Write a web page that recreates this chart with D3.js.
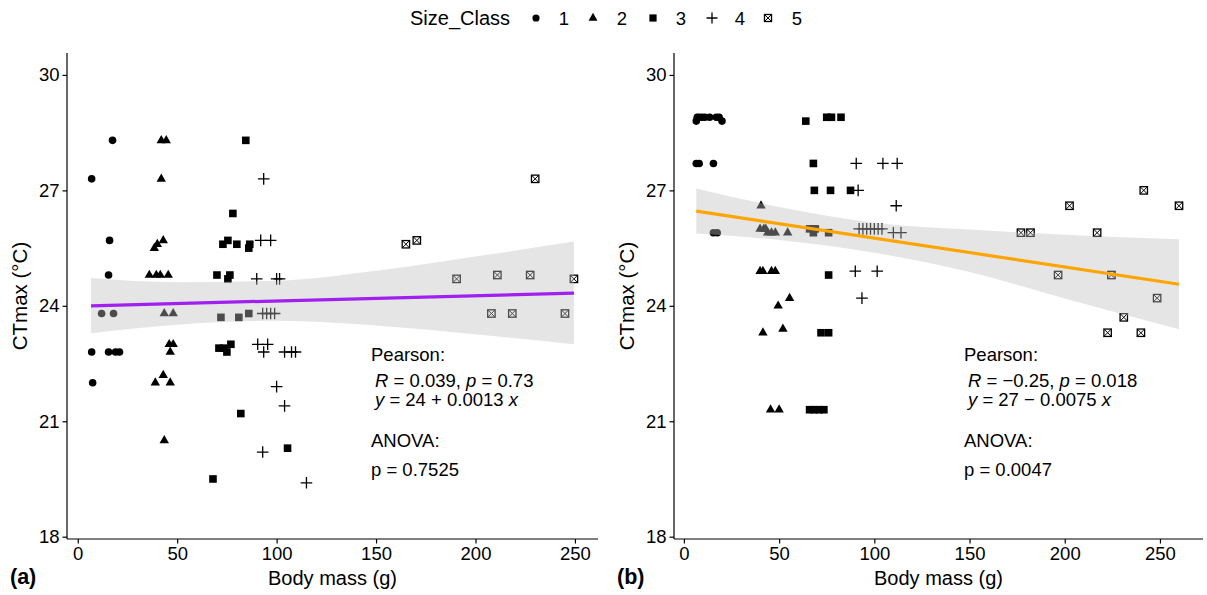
<!DOCTYPE html>
<html><head><meta charset="utf-8">
<script src="https://cdn.jsdelivr.net/npm/d3@7"></script>
<style>
body{margin:0;background:#fff;}
svg{display:block;font-family:"Liberation Sans",Arial,sans-serif;}
</style></head>
<body><svg id="c" width="1207" height="595"></svg>
<script>
// ---------- DATA ----------
const sizeClasses = ["1","2","3","4","5"];
const xTicks = [0,50,100,150,200,250];
const yTicks = [18,21,24,27,30];

// Panel (a)
const aMass = [7,17.5,16,15.5,12,18,7,15.5,19,21,7.5,
 42,44.5,42,38.5,40,43,36,39.5,41.5,45.5,43.5,48,46,48,46.5,43,39,46.5,43.5,
 84.5,78,73,75.5,80,86,86.5,70,76.5,75.5,72,81,86,71,73.5,77,75,82,105.5,68,
 93.5,92,97,90,100,101.5,93,95,97,99,90.5,95.5,93.5,104,107.5,109.5,100,104,93,115,
 230,165,170.5,190.5,211,227.5,249.5,208,218.5,245];
const aCT = [27.3,28.3,25.7,24.8,23.8,23.8,22.8,22.8,22.8,22.8,22.0,
 28.3,28.3,27.3,25.5,25.6,25.7,24.8,24.8,24.8,24.8,23.8,23.8,23.0,23.0,22.8,22.2,22.0,22.0,20.5,
 28.3,26.4,25.6,25.7,25.6,25.5,25.6,24.8,24.8,24.7,23.7,23.7,23.8,22.9,22.9,23.0,22.8,21.2,20.3,19.5,
 27.3,25.7,25.7,24.7,24.7,24.7,23.8,23.8,23.8,23.8,23.0,23.0,22.8,22.8,22.8,22.8,21.9,21.4,20.2,19.4,
 27.3,25.6,25.7,24.7,24.8,24.8,24.7,23.8,23.8,23.8];
const aClass = [1,1,1,1,1,1,1,1,1,1,1,
 2,2,2,2,2,2,2,2,2,2,2,2,2,2,2,2,2,2,2,
 3,3,3,3,3,3,3,3,3,3,3,3,3,3,3,3,3,3,3,3,
 4,4,4,4,4,4,4,4,4,4,4,4,4,4,4,4,4,4,4,4,
 5,5,5,5,5,5,5,5,5,5];
const aBandX  = [6.7,50,100,150,200,249.5];
const aBandLo = [23.29,23.51,23.61,23.49,23.26,23.0];
const aBandHi = [24.72,24.61,24.65,24.91,25.28,25.67];
const aFitX = [6.7,249.5];
const aFitY = [24.0,24.33];
const aStats = ["Pearson:","R = 0.039, p = 0.73","y = 24 + 0.0013 x","ANOVA:","p = 0.7525"];

// Panel (b)
const bMass = [6.5,7,8,9.5,11,13.5,17,18.5,20,6.5,8,15.5,15.5,17.5,
 40.5,40,42,43,44,46,48,54.5,40,41.5,46,48,55.5,49.5,52,41.5,45.5,50,
 64,75,77.5,82.5,68,68.5,77,87.5,66,69,68,76,76,72,76,66,68.5,71,73.5,
 90.5,104.5,112,91.5,111.5,92,94,96,98,100,102,104,110,114,90,101.5,93.5,
 241.5,202.5,260,177,182,217,196.5,224.5,248.5,231,222.5,240];
const bCT = [28.8,28.9,28.9,28.9,28.9,28.9,28.9,28.9,28.8,27.7,27.7,27.7,25.9,25.9,
 26.6,26.0,26.0,26.0,25.9,25.9,25.9,25.9,24.9,24.9,24.9,24.9,24.2,24.0,23.4,23.3,21.3,21.3,
 28.8,28.9,28.9,28.9,27.7,27.0,27.0,27.0,26.0,26.0,25.9,25.9,24.8,23.3,23.3,21.3,21.3,21.3,21.3,
 27.7,27.7,27.7,27.0,26.6,26.0,26.0,26.0,26.0,26.0,26.0,26.0,25.9,25.9,24.9,24.9,24.2,
 27.0,26.6,26.6,25.9,25.9,25.9,24.8,24.8,24.2,23.7,23.3,23.3];
const bClass = [1,1,1,1,1,1,1,1,1,1,1,1,1,1,
 2,2,2,2,2,2,2,2,2,2,2,2,2,2,2,2,2,2,
 3,3,3,3,3,3,3,3,3,3,3,3,3,3,3,3,3,3,3,
 4,4,4,4,4,4,4,4,4,4,4,4,4,4,4,4,4,
 5,5,5,5,5,5,5,5,5,5,5,5];
const bBandX  = [6.5,50,100,150,200,260];
const bBandLo = [25.88,25.71,25.38,24.88,24.19,23.39];
const bBandHi = [27.05,26.57,26.16,25.98,25.85,25.73];
const bFitX = [6.5,260];
const bFitY = [26.46,24.56];
const bStats = ["Pearson:","R = \u22120.25, p = 0.018","y = 27 \u2212 0.0075 x","ANOVA:","p = 0.0047"];

// ---------- DRAW ----------
const svg = d3.select("#c");
const FS = 18.5;

function drawShape(g, cls, x, y, s){
  s = s || 1;
  if(cls===1){
    g.append("circle").attr("cx",x).attr("cy",y).attr("r",3.8*s).attr("fill","#000");
  } else if(cls===2){
    const a=4.7*s;
    g.append("path").attr("d",`M${x},${y-5.4*s}L${x+a},${y+2.8*s}L${x-a},${y+2.8*s}Z`).attr("fill","#000");
  } else if(cls===3){
    const h=3.8*s;
    g.append("rect").attr("x",x-h).attr("y",y-h).attr("width",2*h).attr("height",2*h).attr("fill","#000");
  } else if(cls===4){
    const h=5.8*s;
    g.append("path").attr("d",`M${x-h},${y}H${x+h}M${x},${y-h}V${y+h}`).attr("stroke","#000").attr("stroke-width",1.3).attr("fill","none");
  } else {
    const h=3.7*s;
    g.append("rect").attr("x",x-h).attr("y",y-h).attr("width",2*h).attr("height",2*h).attr("fill","none").attr("stroke","#000").attr("stroke-width",1.3);
    g.append("path").attr("d",`M${x-h},${y-h}L${x+h},${y+h}M${x+h},${y-h}L${x-h},${y+h}`).attr("stroke","#000").attr("stroke-width",1.0);
  }
}

function panel(opt){
  const x = d3.scaleLinear().domain(opt.xDom).range([opt.left,opt.right]);
  const y = d3.scaleLinear().domain([17.94,30.57]).range([539,53]);
  const g = svg.append("g");

  // points
  const pg = g.append("g");
  opt.mass.forEach((m,i)=>drawShape(pg, opt.cls[i], x(m), y(opt.ct[i])));

  // ribbon
  const band = opt.bx.map((v,i)=>({x:v,lo:opt.blo[i],hi:opt.bhi[i]}));
  g.append("path").datum(band)
   .attr("d", d3.area().curve(d3.curveMonotoneX).x(d=>x(d.x)).y0(d=>y(d.lo)).y1(d=>y(d.hi)))
   .attr("fill","#bebebe").attr("fill-opacity",0.4);
  // fit line
  const fit = opt.fx.map((v,i)=>({x:v,y:opt.fy[i]}));
  g.append("path").datum(fit)
   .attr("d", d3.line().x(d=>x(d.x)).y(d=>y(d.y)))
   .attr("stroke",opt.color).attr("stroke-width",3.2).attr("fill","none");

  // axes
  const ax = g.append("g").attr("transform","translate(0,539)")
   .call(d3.axisBottom(x).tickValues(xTicks).tickSize(4.5).tickPadding(3));
  const ay = g.append("g").attr("transform",`translate(${opt.left},0)`)
   .call(d3.axisLeft(y).tickValues(yTicks).tickSize(4.5).tickPadding(3));
  [ax,ay].forEach(a=>{
    a.select(".domain").attr("stroke","#000").attr("stroke-width",1.2);
    a.selectAll(".tick line").attr("stroke","#000").attr("stroke-width",1.2);
    a.selectAll(".tick text").attr("fill","#000").attr("font-size",FS).attr("font-family","Liberation Sans, Arial, sans-serif");
  });
  ax.select(".domain").attr("d",`M${opt.left},0H${opt.right}`);
  ay.select(".domain").attr("d",`M0,539V53`);

  // axis titles
  g.append("text").attr("x",(opt.left+opt.right)/2).attr("y",585).attr("text-anchor","middle")
   .attr("font-size",20).text("Body mass (g)");
  g.append("text").attr("transform",`translate(${opt.left-40},296) rotate(-90)`).attr("text-anchor","middle")
   .attr("font-size",20.5).text("CTmax (\u00B0C)");
  g.append("text").attr("x",opt.tagX).attr("y",584).attr("font-size",21.5).attr("font-weight","bold").text(opt.tag);

  // stats
  const s = opt.stats;
  g.append("text").attr("font-size",FS).attr("x",opt.sx).attr("y",361).text(s[0]);
  function rich(str, yy){
    const t = g.append("text").attr("font-size",FS).attr("x",opt.sx+4).attr("y",yy);
    const parts = str.split(/(\bR\b|\bp\b|\by\b|\bx\b)/);
    parts.forEach(p=>{ if(!p) return;
      const sp = t.append("tspan").text(p);
      if(/^(R|p|y|x)$/.test(p)) sp.attr("font-style","italic");
    });
  }
  rich(s[1],387);
  rich(s[2],406);
  g.append("text").attr("font-size",FS).attr("x",opt.sx).attr("y",447).text(s[3]);
  g.append("text").attr("font-size",FS).attr("x",opt.sx).attr("y",476).text(s[4]);
}

panel({xDom:[-5.4,261.6],left:67,right:598,mass:aMass,ct:aCT,cls:aClass,
  bx:aBandX,blo:aBandLo,bhi:aBandHi,fx:aFitX,fy:aFitY,color:"#a020f0",
  stats:aStats,sx:371,tag:"(a)",tagX:10});
panel({xDom:[-5.2,272.6],left:674,right:1203,mass:bMass,ct:bCT,cls:bClass,
  bx:bBandX,blo:bBandLo,bhi:bBandHi,fx:bFitX,fy:bFitY,color:"#ffa500",
  stats:bStats,sx:964,tag:"(b)",tagX:617});

// legend
const lg = svg.append("g");
lg.append("text").attr("x",410).attr("y",25).attr("font-size",20).text("Size_Class");
const legSym = [536,593,653,712,768];
const legLab = [564,622,681,740,797];
sizeClasses.forEach((c,i)=>{
  drawShape(lg, i+1, legSym[i], 18, 0.95);
  lg.append("text").attr("x",legLab[i]).attr("y",25).attr("font-size",FS).attr("text-anchor","middle").text(c);
});
</script></body></html>
